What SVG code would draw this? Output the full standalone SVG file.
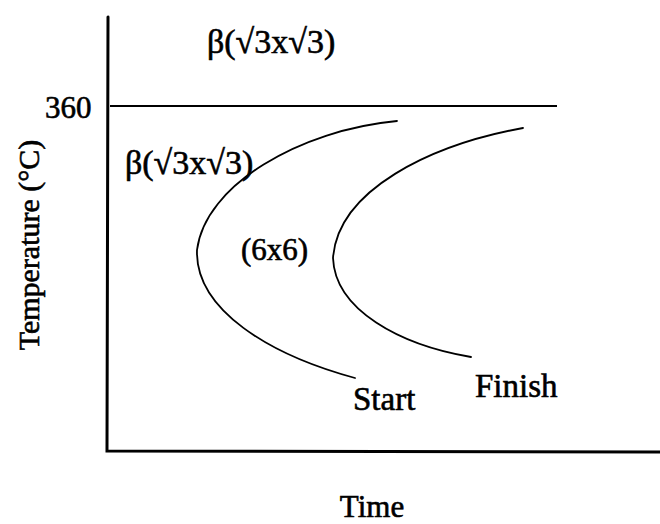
<svg xmlns="http://www.w3.org/2000/svg" width="660" height="524" viewBox="0 0 660 524">
<style>
.ax{stroke:#000;stroke-width:3;fill:none;stroke-linecap:round}
.ln{stroke:#000;stroke-width:2;fill:none}
.cv{stroke:#000;stroke-width:1.8;fill:none;stroke-linecap:round}
.t{font-family:"Liberation Serif","Times New Roman",serif;fill:#000;stroke:#000;stroke-width:0.6}
</style>
<rect width="660" height="524" fill="#fff"/>
<g id="axes">
<path class="ax" d="M108,17 L107,451 L660,452"/>
<path class="ln" d="M110,106 L557,106"/>
</g>
<g id="connectors">
<path id="start-curve" class="cv" d="M397,121 C300,130 205,185 197,250 C195,310 270,355 355,378"/>
<path id="finish-curve" class="cv" d="M523,128 C430,145 338,190 333,258 C335,310 400,345 471,357"/>
</g>
<g id="labels">
<text class="t" x="207" y="53" font-size="34">β(√3x√3)</text>
<text class="t" x="125" y="174" font-size="34">β(√3x√3)</text>
<text class="t" x="45" y="118" font-size="31">360</text>
<text class="t" x="241" y="260" font-size="31">(6x6)</text>
<text class="t" x="353" y="410" font-size="33">Start</text>
<text class="t" x="475" y="397" font-size="33">Finish</text>
<text class="t" x="372" y="517" font-size="31" text-anchor="middle">Time</text>
<text class="t" font-size="30" text-anchor="middle" transform="translate(39,245) rotate(-90)">Temperature (°C)</text>
</g>
</svg>
